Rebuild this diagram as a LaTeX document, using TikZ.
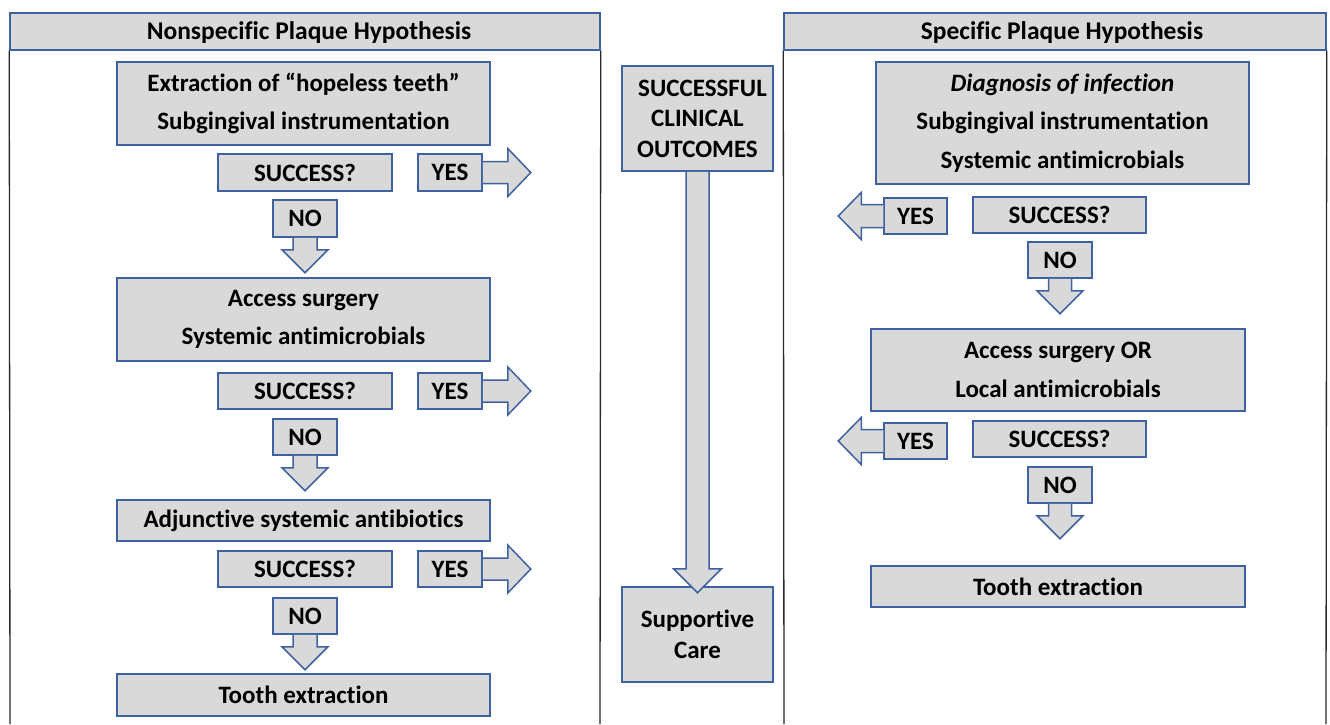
\documentclass[tikz,border=0pt]{standalone}
\usepackage{fontspec}
\setmainfont{Carlito}[Ligatures={NoCommon}]
\usetikzlibrary{calc}
\definecolor{boxfill}{RGB}{217,217,217}
\definecolor{boxline}{RGB}{62,98,160}
\definecolor{panelline}{RGB}{40,40,40}
\newcommand\myRightArrow[1]{%
  \draw[barrow] ($(#1.east)+(0,-11)$) -- ++(25,0) -- ++(0,-13) -- ($(#1.east)+(48,0)$) -- ($(#1.east)+(25,24)$) -- ++(0,-13) -- ($(#1.east)+(0,11)$);}
\newcommand\myLeftArrow[1]{%
  \draw[barrow] ($(#1.west)+(0,-11.5)$) -- ++(-22,0) -- ++(0,-12) -- ($(#1.west)+(-45,0)$) -- ($(#1.west)+(-22,23.5)$) -- ++(0,-12) -- ($(#1.west)+(0,11.5)$);}
\newcommand\myDownArrow[5]{%
  \draw[barrow] ($(#1.south)+(-#2,0)$) -- ($(#1.south)+(-#2,#3)$) -- ($(#1.south)+(-#4,#3)$) -- ($(#1.south)+(0,#3+#5)$) -- ($(#1.south)+(#4,#3)$) -- ($(#1.south)+(#2,#3)$) -- ($(#1.south)+(#2,0)$);}
\begin{document}
\begin{tikzpicture}[x=1pt,y=-1pt,
  box/.style={draw=boxline, fill=boxfill, line width=1.5pt, inner sep=0pt, align=center,
    font=\bfseries\fontsize{25}{38.5}\selectfont},
  hdr/.style={draw=boxline, fill=boxfill, line width=1.5pt, inner sep=0pt},
  hdrtext/.style={inner sep=0pt, font=\bfseries\fontsize{25.5}{30}\selectfont},
  barrow/.style={draw=boxline, fill=boxfill, line width=1.5pt, line join=miter},
  panel/.style={draw=panelline, line width=1.3pt}]
\useasboundingbox (0,0) rectangle (1330,724);

% ---------- left panel ----------
\node[hdr, minimum width=590, minimum height=37] (hdrL) at (305,31.5) {};
\node[hdrtext] (hdrLt) at ($(hdrL.center)+(4,1.5)$) {Nonspecific Plaque Hypothesis};
\coordinate (Lbl) at (10,724);
\coordinate (Lbr) at (600,724);
\draw[panel] (hdrL.south west) -- (Lbl);
\draw[panel] (hdrL.south east) -- (Lbr);

\node[box, minimum width=373, minimum height=83] (b1) at (303.5,103.5) {Extraction of “hopeless teeth”\\Subgingival instrumentation};
\node[box, minimum width=174, minimum height=37] (s1) at (305,172.5) {SUCCESS?};
\node[box, minimum width=64, minimum height=37] (y1) at (450,172.5) {YES};
\node[box, minimum width=64, minimum height=37] (n1) at (305,218.5) {NO};

\node[box, minimum width=373, minimum height=83] (b2) at (303.5,319.5) {Access surgery\\Systemic antimicrobials};
\node[box, minimum width=174, minimum height=36] (s2) at (305,391) {SUCCESS?};
\node[box, minimum width=64, minimum height=36] (y2) at (450,391) {YES};
\node[box, minimum width=64, minimum height=36] (n2) at (305,437) {NO};

\node[box, minimum width=373, minimum height=41] (b3) at (303.5,520.5) {Adjunctive systemic antibiotics};
\node[box, minimum width=174, minimum height=36] (s3) at (305,569) {SUCCESS?};
\node[box, minimum width=64, minimum height=36] (y3) at (450,569) {YES};
\node[box, minimum width=64, minimum height=36] (n3) at (305,616) {NO};

\node[box, minimum width=373, minimum height=42] (b4) at (303.5,695) {Tooth extraction};

\myRightArrow{y1}
\myRightArrow{y2}
\myRightArrow{y3}
\myDownArrow{n1}{12}{12}{23}{23}
\myDownArrow{n2}{12}{12}{23}{23}
\myDownArrow{n3}{12}{12}{23}{23}

% ---------- middle ----------
\node[box, minimum width=151, minimum height=105, font=\bfseries\fontsize{25}{30.5}\selectfont] (sco) at (697.5,118.5) {\hspace*{10pt}SUCCESSFUL\\CLINICAL\\OUTCOMES};
\node[box, minimum width=151, minimum height=95, font=\bfseries\fontsize{25}{30.5}\selectfont] (sc) at (697.5,634.5) {Supportive\\Care};
\myDownArrow{sco}{11.5}{397}{24}{24}

% ---------- right panel ----------
\node[hdr, minimum width=542, minimum height=37] (hdrR) at (1055,31.5) {};
\node[hdrtext] (hdrRt) at ($(hdrR.center)+(7,1.5)$) {Specific Plaque Hypothesis};
\coordinate (Rbl) at (784,724);
\coordinate (Rbr) at (1326,724);
\draw[panel] (hdrR.south west) -- (Rbl);
\draw[panel] (hdrR.south east) -- (Rbr);

\node[box, minimum width=373, minimum height=122] (r1) at (1062.5,123) {\textit{Diagnosis of infection}\\Subgingival instrumentation\\Systemic antimicrobials};
\node[box, minimum width=63, minimum height=36] (ry1) at (915.5,216) {YES};
\node[box, minimum width=173, minimum height=36] (rs1) at (1059.5,215) {SUCCESS?};
\node[box, minimum width=64, minimum height=36] (rn1) at (1060,260) {NO};

\node[box, minimum width=374, minimum height=82] (r2) at (1058,370) {Access surgery OR\\Local antimicrobials};
\node[box, minimum width=63, minimum height=36] (ry2) at (915.5,441) {YES};
\node[box, minimum width=173, minimum height=36] (rs2) at (1059.5,439) {SUCCESS?};
\node[box, minimum width=64, minimum height=36] (rn2) at (1060,485) {NO};

\node[box, minimum width=374, minimum height=41] (r3) at (1058,586.5) {Tooth extraction};

\myLeftArrow{ry1}
\myLeftArrow{ry2}
\myDownArrow{rn1}{11.5}{12}{23}{23}
\myDownArrow{rn2}{11.5}{12}{23}{23}
\end{tikzpicture}
\end{document}
